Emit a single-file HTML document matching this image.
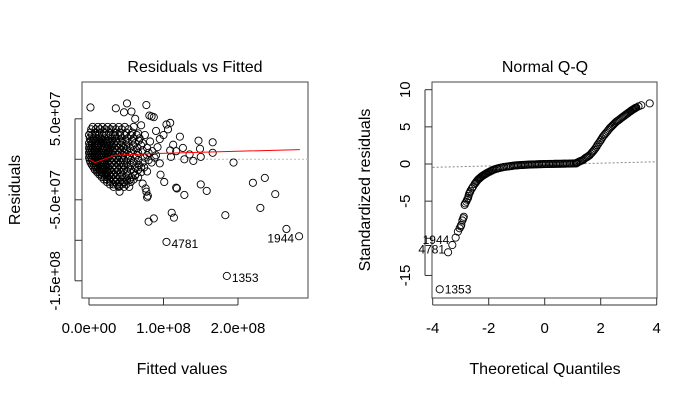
<!DOCTYPE html>
<html><head><meta charset="utf-8"><style>
html,body{margin:0;padding:0;background:#fff}
svg{display:block;font-family:"Liberation Sans",sans-serif}
</style></head><body>
<svg id="chart" width="700" height="400" viewBox="0 0 700 400">
<rect width="700" height="400" fill="#fff"/>
<g id="left">
<text x="195" y="72" font-size="16" text-anchor="middle">Residuals vs Fitted</text>
<text x="182" y="374" font-size="16" text-anchor="middle">Fitted values</text>
<text transform="translate(20,190) rotate(-90)" font-size="16" text-anchor="middle">Residuals</text>
<rect x="82" y="82" width="226" height="216" fill="none" stroke="#444"/>
</g>
<g id="right">
<text x="545" y="72" font-size="16" text-anchor="middle">Normal Q-Q</text>
<text x="545" y="374" font-size="16" text-anchor="middle">Theoretical Quantiles</text>
<text transform="translate(370,190) rotate(-90)" font-size="16" text-anchor="middle">Standardized residuals</text>
<rect x="432" y="82" width="225" height="216" fill="none" stroke="#444"/>
</g>
</svg>
<script>
// Residuals vs Fitted data (units of 1e6)
const fitted = [2,51,77,36,47,57,81,84,87,109,104,106,122,147,166,166,149,126,113,109,117,110,128,140,150,135,194,96,101,117,118,128,150,158,220,236,250,230,183,111,114,80,87,265,282,104,185,77,78,79,76,72,41,40,62,70,90,95,100,75,82,92,60,66,85,90,95,70,78,55,45,62,
5,12,18,25,32,40,48,
2,8,14,20,27,34,41,50,58,
1,6,11,16,21,26,31,37,44,52,60,68,
0,4,8,12,16,20,24,28,33,38,45,53,62,72,
0,3,6,9,12,15,18,21,25,29,34,40,47,55,65,78,
0,3,6,9,12,15,18,22,26,30,35,41,48,56,66,80,
0,3,6,9,12,15,18,22,26,31,37,44,52,62,75,88,
2,5,8,11,14,17,21,25,30,36,43,51,60,72,84,
6,9,12,15,18,22,26,31,37,44,52,62,74,
11,14,17,21,25,30,36,43,51,60,70,
17,21,25,30,36,42,49,57,66,
24,29,35,41,48,56,
33,40,47,54];
const resid = [64,69,67,63,58,59,54,53,52,45,43,37,28,23,21,8,13,14,18,11,10,3,0,-2,3,6,-4,-19,-28,-35,-36,-44,-31,-39,-29,-23,-43,-60,-69,-66,-72,-77,-73,-86,-95,-102,-144,-40,-47,-45,-36,-30,-40,-33,50,42,35,25,30,30,22,15,40,32,10,5,-5,-10,-15,-25,-28,-20,
40,40,40,40,40,40,40,
33,33,33,33,33,33,33,33,33,
26,26,26,26,26,26,26,26,26,26,26,26,
20,20,20,20,20,20,20,20,20,20,20,20,20,20,
14,14,14,14,14,14,14,14,14,14,14,14,14,14,14,14,
8,8,8,8,8,8,8,8,8,8,8,8,8,8,8,8,
2,2,2,2,2,2,2,2,2,2,2,2,2,2,2,2,
-4,-4,-4,-4,-4,-4,-4,-4,-4,-4,-4,-4,-4,-4,-4,
-10,-10,-10,-10,-10,-10,-10,-10,-10,-10,-10,-10,-10,
-16,-16,-16,-16,-16,-16,-16,-16,-16,-16,-16,
-22,-22,-22,-22,-22,-22,-22,-22,-22,
-28,-28,-28,-28,-28,-28,
-34,-34,-34,-34];
const fittedExtra = [3,9,15,22,29,36,44,53,
0,4,9,13,18,23,29,35,42,48,56,64,
2,6,10,14,18,22,26,31,36,42,49,58,67,
1,4,7,10,13,17,20,23,27,31,36,43,50,59,70,
1,4,7,10,13,16,19,23,27,32,37,44,51,60,72,
1,4,7,10,13,16,20,24,28,33,39,46,54,64,78,
1,4,7,10,13,16,19,23,28,33,40,47,56,66,80,
4,7,10,13,16,19,23,28,33,40,47,56,67,
8,11,14,17,20,24,28,34,40,47,56,66,
14,17,20,23,27,32,38,45,53,62,
20,24,28,33,38,44,51,60,
28,33,38,44,50];
const residExtra = [37,37,37,37,37,37,37,37,
30,30,30,30,30,30,30,30,30,30,30,30,
23,23,23,23,23,23,23,23,23,23,23,23,23,
17,17,17,17,17,17,17,17,17,17,17,17,17,17,17,
11,11,11,11,11,11,11,11,11,11,11,11,11,11,11,
5,5,5,5,5,5,5,5,5,5,5,5,5,5,5,
-1,-1,-1,-1,-1,-1,-1,-1,-1,-1,-1,-1,-1,-1,-1,
-7,-7,-7,-7,-7,-7,-7,-7,-7,-7,-7,-7,-7,
-13,-13,-13,-13,-13,-13,-13,-13,-13,-13,-13,-13,
-19,-19,-19,-19,-19,-19,-19,-19,-19,-19,
-25,-25,-25,-25,-25,-25,-25,-25,
-31,-31,-31,-31,-31];
const smoothF = [0,8,35,85,283];
const smoothR = [0.5,-4,5,7,12];
const leftXTicks = [0,100,200];
const leftXTickLabels = ["0.0e+00","1.0e+08","2.0e+08"];
const leftYTicks = [50,0,-50,-100,-150];
const leftYTickLabels = ["5.0e+07","","-5.0e+07","","-1.5e+08"];
const leftLabelIdx = [45,46,44];
const leftLabelText = ["4781","1353","1944"];

// Normal Q-Q data
const qqTheo = [-3.75,-3.45,-3.30,-3.18,-3.10,-3.04,-3.0,-2.98,-2.94,-2.91,-2.89,-2.86,-2.84,-2.80,-2.77,-2.74,-2.72,-2.70,-2.67,-2.65,-2.6,-2.56,-2.5,-2.44,-2.38,-2.32,-2.26,-2.2,-2.14,-2.08,-2.0,-1.92,-1.85,-1.75,-1.65,-1.55,-1.45,-1.37,-1.25,-1.1,-0.95,-0.8,-0.65,-0.5,-0.35,-0.2,-0.05,0.1,0.25,0.4,0.55,0.7,0.85,1.0,1.13,1.2,1.28,1.37,1.45,1.53,1.61,1.69,1.77,1.85,1.92,2.0,2.08,2.16,2.24,2.32,2.4,2.48,2.56,2.64,2.72,2.80,2.88,2.96,3.04,3.1,3.16,3.22,3.27,3.45,3.75,
-1.3,-1.2,-1.15,-1.05,-1.0,-0.9,-0.85,-0.75,-0.7,-0.6,-0.55,-0.45,-0.4,-0.3,-0.25,-0.15,-0.1,0,0.05,0.15,0.2,0.3,0.35,0.45,0.5,0.6,0.65,0.75,0.8,0.9,0.95,1.05,1.1,-1.7,-1.6,-1.5,-1.8,-1.88,-1.96,-2.04,-2.11,-2.17,-2.23,-2.29,-2.35,-2.41,-2.47,
1.16,1.24,1.33,1.41,1.49,1.57,1.65,1.73,1.81,1.88,1.96,2.04,2.12,2.2,2.28,2.36,2.44,2.52,2.6,2.68,2.76,2.84,2.92,3.0,3.07,3.13,3.19,3.25,3.35];
const qqStd = [-16.86,-11.88,-10.9,-9.91,-9.1,-8.65,-8.4,-8.2,-7.6,-7.3,-7.1,-5.5,-5.3,-5.07,-4.8,-4.6,-4.3,-4.0,-3.8,-3.6,-3.3,-3.05,-2.7,-2.38,-2.1,-1.9,-1.7,-1.55,-1.4,-1.26,-1.1,-0.95,-0.8,-0.68,-0.57,-0.48,-0.4,-0.36,-0.3,-0.22,-0.17,-0.13,-0.1,-0.07,-0.05,-0.03,-0.01,0,0.01,0.02,0.03,0.04,0.05,0.07,0.09,0.25,0.4,0.54,0.8,0.98,1.2,1.55,1.9,2.33,2.75,3.2,3.68,4.05,4.4,4.8,5.1,5.4,5.7,5.9,6.15,6.37,6.6,6.82,7.04,7.2,7.35,7.5,7.6,7.9,8.16,
-0.33,-0.28,-0.25,-0.2,-0.18,-0.15,-0.14,-0.12,-0.11,-0.09,-0.08,-0.06,-0.06,-0.04,-0.04,-0.02,-0.02,-0.005,0,0.005,0.01,0.015,0.02,0.025,0.03,0.035,0.04,0.045,0.05,0.055,0.06,0.08,0.09,-0.62,-0.52,-0.44,-0.74,-0.87,-1.02,-1.18,-1.33,-1.47,-1.62,-1.8,-2.0,-2.24,-2.54,
0.17,0.33,0.47,0.67,0.89,1.09,1.37,1.72,2.1,2.54,2.97,3.44,3.87,4.22,4.6,4.95,5.25,5.55,5.8,6.02,6.26,6.48,6.71,6.93,7.12,7.28,7.42,7.55,7.75];
const qqXTicks = [-4,-2,0,2,4];
const qqXTickLabels = ["-4","-2","0","2","4"];
const qqYTicks = [10,5,0,-5,-10,-15];
const qqYTickLabels = ["10","5","0","-5","","-15"];
const qqRefLine = [-4,-0.45,4,0.3];
const qqLabelIdx = [0,1,2];
const qqLabelText = ["1353","4781","1944"];

const NS = "http://www.w3.org/2000/svg";
const svg = document.getElementById('chart');
function mk(tag, attrs, parent){const e=document.createElementNS(NS,tag);for(const k in attrs)e.setAttribute(k,attrs[k]);(parent||svg).appendChild(e);return e;}
const xL=f=>89+0.745*f, yL=r=>159.3-0.81*r;
const xQ=q=>544.7+28*q, yQ=s=>164-7.43*s;

const L=document.getElementById('left'), R=document.getElementById('right');
leftXTicks.forEach((t,i)=>{
  const x=xL(t);
  const tk=mk('line',{x1:x,x2:x,y1:298,y2:305,stroke:'#333'},L);
  
  
  const tx=mk('text',{x:x,y:333,'font-size':15,'text-anchor':'middle'},L);tx.textContent=leftXTickLabels[i];
  
  
});
mk('line',{x1:xL(0),x2:xL(200),y1:305,y2:305,stroke:'#333'},L);
leftYTicks.forEach((t,i)=>{
  const y=yL(t);
  const tk=mk('line',{x1:75,x2:82,y1:y,y2:y,stroke:'#333'},L);
  
  
  if(leftYTickLabels[i]){const tx=mk('text',{transform:`translate(60,${y}) rotate(-90)`,'font-size':15,'text-anchor':'middle'},L);tx.textContent=leftYTickLabels[i];
  
  }
});
mk('line',{x1:75,x2:75,y1:yL(50),y2:yL(-150),stroke:'#333'},L);
const zl=mk('line',{x1:82,x2:308,y1:yL(0),y2:yL(0),stroke:'#bbb','stroke-dasharray':'2,2'},L);


fitted.forEach((f,i)=>{
  const c=mk('circle',{cx:xL(f),cy:yL(resid[i]),r:3.6,fill:'none',stroke:'#000','stroke-width':0.9},L);
  
  
});
fittedExtra.forEach((f,i)=>{
  const c=mk('circle',{cx:xL(f),cy:yL(residExtra[i]),r:3.6,fill:'none',stroke:'#000','stroke-width':0.9},L);
  
  
});
const sm=mk('polyline',{points:smoothF.map((f,i)=>xL(f)+','+yL(smoothR[i])).join(' '),fill:'none',stroke:'#f00','stroke-width':1},L);


leftLabelIdx.forEach((idx,i)=>{
  const x=xL(fitted[idx]), y=yL(resid[idx]);
  const right = leftLabelText[i]!=="1944";
  const t=mk('text',{x:right?x+5:x-5,y:y+6,'font-size':12,'text-anchor':right?'start':'end'},L);t.textContent=leftLabelText[i];
  
  
});
qqXTicks.forEach((t,i)=>{
  const x=xQ(t);
  const tk=mk('line',{x1:x,x2:x,y1:298,y2:305,stroke:'#333'},R);
  
  
  const tx=mk('text',{x:x,y:333,'font-size':15,'text-anchor':'middle'},R);tx.textContent=qqXTickLabels[i];
  
  
});
mk('line',{x1:xQ(-4),x2:xQ(4),y1:305,y2:305,stroke:'#333'},R);
qqYTicks.forEach((t,i)=>{
  const y=yQ(t);
  const tk=mk('line',{x1:425,x2:432,y1:y,y2:y,stroke:'#333'},R);
  
  
  if(qqYTickLabels[i]){const tx=mk('text',{transform:`translate(410,${y}) rotate(-90)`,'font-size':15,'text-anchor':'middle'},R);tx.textContent=qqYTickLabels[i];
  
  }
});
mk('line',{x1:425,x2:425,y1:yQ(10),y2:yQ(-15),stroke:'#333'},R);
const rl=mk('line',{x1:xQ(qqRefLine[0]),y1:yQ(qqRefLine[1]),x2:xQ(qqRefLine[2]),y2:yQ(qqRefLine[3]),stroke:'#888','stroke-dasharray':'2,2'},R);


qqTheo.forEach((q,i)=>{
  const c=mk('circle',{cx:xQ(q),cy:yQ(qqStd[i]),r:3.6,fill:'none',stroke:'#000','stroke-width':0.9},R);
  
  
});
qqLabelIdx.forEach((idx,i)=>{
  const x=xQ(qqTheo[idx]), y=yQ(qqStd[idx]);
  const right = qqLabelText[i]==="1353";
  const t=mk('text',{x:right?x+5:x-3,y:right?y+4:y-(qqLabelText[i]==="1944"?1:-1),'font-size':12,'text-anchor':right?'start':'end'},R);t.textContent=qqLabelText[i];
  
  
});
</script>
</body></html>
